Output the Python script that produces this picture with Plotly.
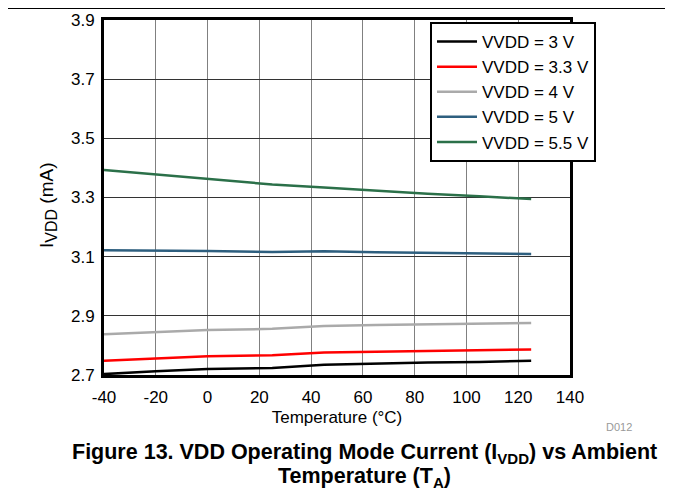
import plotly.graph_objects as go

temps = [-40, -20, 0, 25, 45, 65, 85, 105, 125]
names = ["VVDD = 3 V", "VVDD = 3.3 V", "VVDD = 4 V", "VVDD = 5 V", "VVDD = 5.5 V"]
i_3v0 = [2.703, 2.713, 2.720, 2.724, 2.735, 2.739, 2.742, 2.744, 2.748]
i_3v3 = [2.748, 2.756, 2.763, 2.767, 2.776, 2.779, 2.782, 2.784, 2.786]
i_4v0 = [2.838, 2.846, 2.852, 2.856, 2.866, 2.869, 2.872, 2.874, 2.876]
i_5v0 = [3.122, 3.121, 3.119, 3.116, 3.118, 3.115, 3.113, 3.111, 3.109]
i_5v5 = [3.393, 3.378, 3.361, 3.344, 3.334, 3.323, 3.313, 3.304, 3.295]
x_ticks = [-40, -20, 0, 20, 40, 60, 80, 100, 120, 140]
x_labels = ["-40", "-20", "0", "20", "40", "60", "80", "100", "120", "140"]
y_ticks = [2.7, 2.9, 3.1, 3.3, 3.5, 3.7, 3.9]
y_labels = ["2.7", "2.9", "3.1", "3.3", "3.5", "3.7", "3.9"]
colors = ["#000000", "#ff0000", "#aaaaaa", "#2e5f7f", "#2b7049"]

OFF = 8  # page body margin
W, H = 673 - OFF, 491 - OFF
# plot area in page pixels
L, R, T, B = 104, 570, 20, 375

def px(x):
    return (x - L) / (R - L)

def py(y):
    return (B - y) / (B - T)

fig = go.Figure()
for name, vals, c in zip(names, [i_3v0, i_3v3, i_4v0, i_5v0, i_5v5], colors):
    fig.add_trace(go.Scatter(x=temps, y=vals, mode="lines", name=name,
                             line=dict(color=c, width=2.5)))

font = "Liberation Sans, Arial, sans-serif"
fig.update_layout(
    width=W, height=H,
    margin=dict(l=L - OFF, r=673 - R, t=T - OFF, b=491 - B, pad=0),
    paper_bgcolor="white", plot_bgcolor="white",
    font=dict(family=font, size=17, color="black"),
    showlegend=True,
    legend=dict(x=px(430), y=py(22), xanchor="left", yanchor="top",
                bgcolor="white", bordercolor="black", borderwidth=2,
                font=dict(size=17), tracegroupgap=0, itemwidth=40),
    xaxis=dict(range=[-40, 140], tickmode="array", tickvals=x_ticks, ticktext=x_labels,
               automargin=False,
               showgrid=True, gridcolor="#808080", gridwidth=1,
               showline=True, linecolor="black", linewidth=3, mirror=True,
               ticks="outside", ticklen=5, tickcolor="rgba(0,0,0,0)",
               zeroline=False, tickfont=dict(size=17),
               title=dict(text="Temperature (°C)", font=dict(size=17), standoff=5)),
    yaxis=dict(range=[2.7, 3.9], tickmode="array", tickvals=y_ticks, ticktext=y_labels,
               automargin=False,
               showgrid=True, gridcolor="#333333", gridwidth=1,
               showline=True, linecolor="black", linewidth=3, mirror=True,
               ticks="outside", ticklen=3, tickcolor="rgba(0,0,0,0)",
               zeroline=False, tickfont=dict(size=17)),
    shapes=[
        dict(type="line", xref="paper", yref="paper", x0=px(OFF), x1=px(671),
             y0=py(OFF + 0.5), y1=py(OFF + 0.5), line=dict(color="black", width=1)),
        dict(type="line", xref="paper", yref="paper", x0=px(671), x1=px(671),
             y0=py(OFF), y1=py(458), line=dict(color="black", width=1)),
    ],
    annotations=[
        dict(text="I<sub><span style='font-size:16px'>VDD</span></sub> (mA)",
             xref="paper", yref="paper",
             x=px(48), y=py(205), textangle=-90, showarrow=False,
             font=dict(size=19), xanchor="center", yanchor="middle"),
        dict(text="D012", xref="paper", yref="paper", x=px(619), y=py(427),
             showarrow=False, font=dict(size=11, color="#999999"),
             xanchor="center", yanchor="middle"),
        dict(text="<b>Figure 13. VDD Operating Mode Current (I<sub>VDD</sub>) vs Ambient</b>",
             xref="paper", yref="paper", x=px(364), y=py(453), showarrow=False,
             font=dict(size=21.5), xanchor="center", yanchor="middle"),
        dict(text="<b>Temperature (T<sub>A</sub>)</b>",
             xref="paper", yref="paper", x=px(364), y=py(477.5), showarrow=False,
             font=dict(size=21.5), xanchor="center", yanchor="middle"),
    ],
)

fig.write_html("out.html")
